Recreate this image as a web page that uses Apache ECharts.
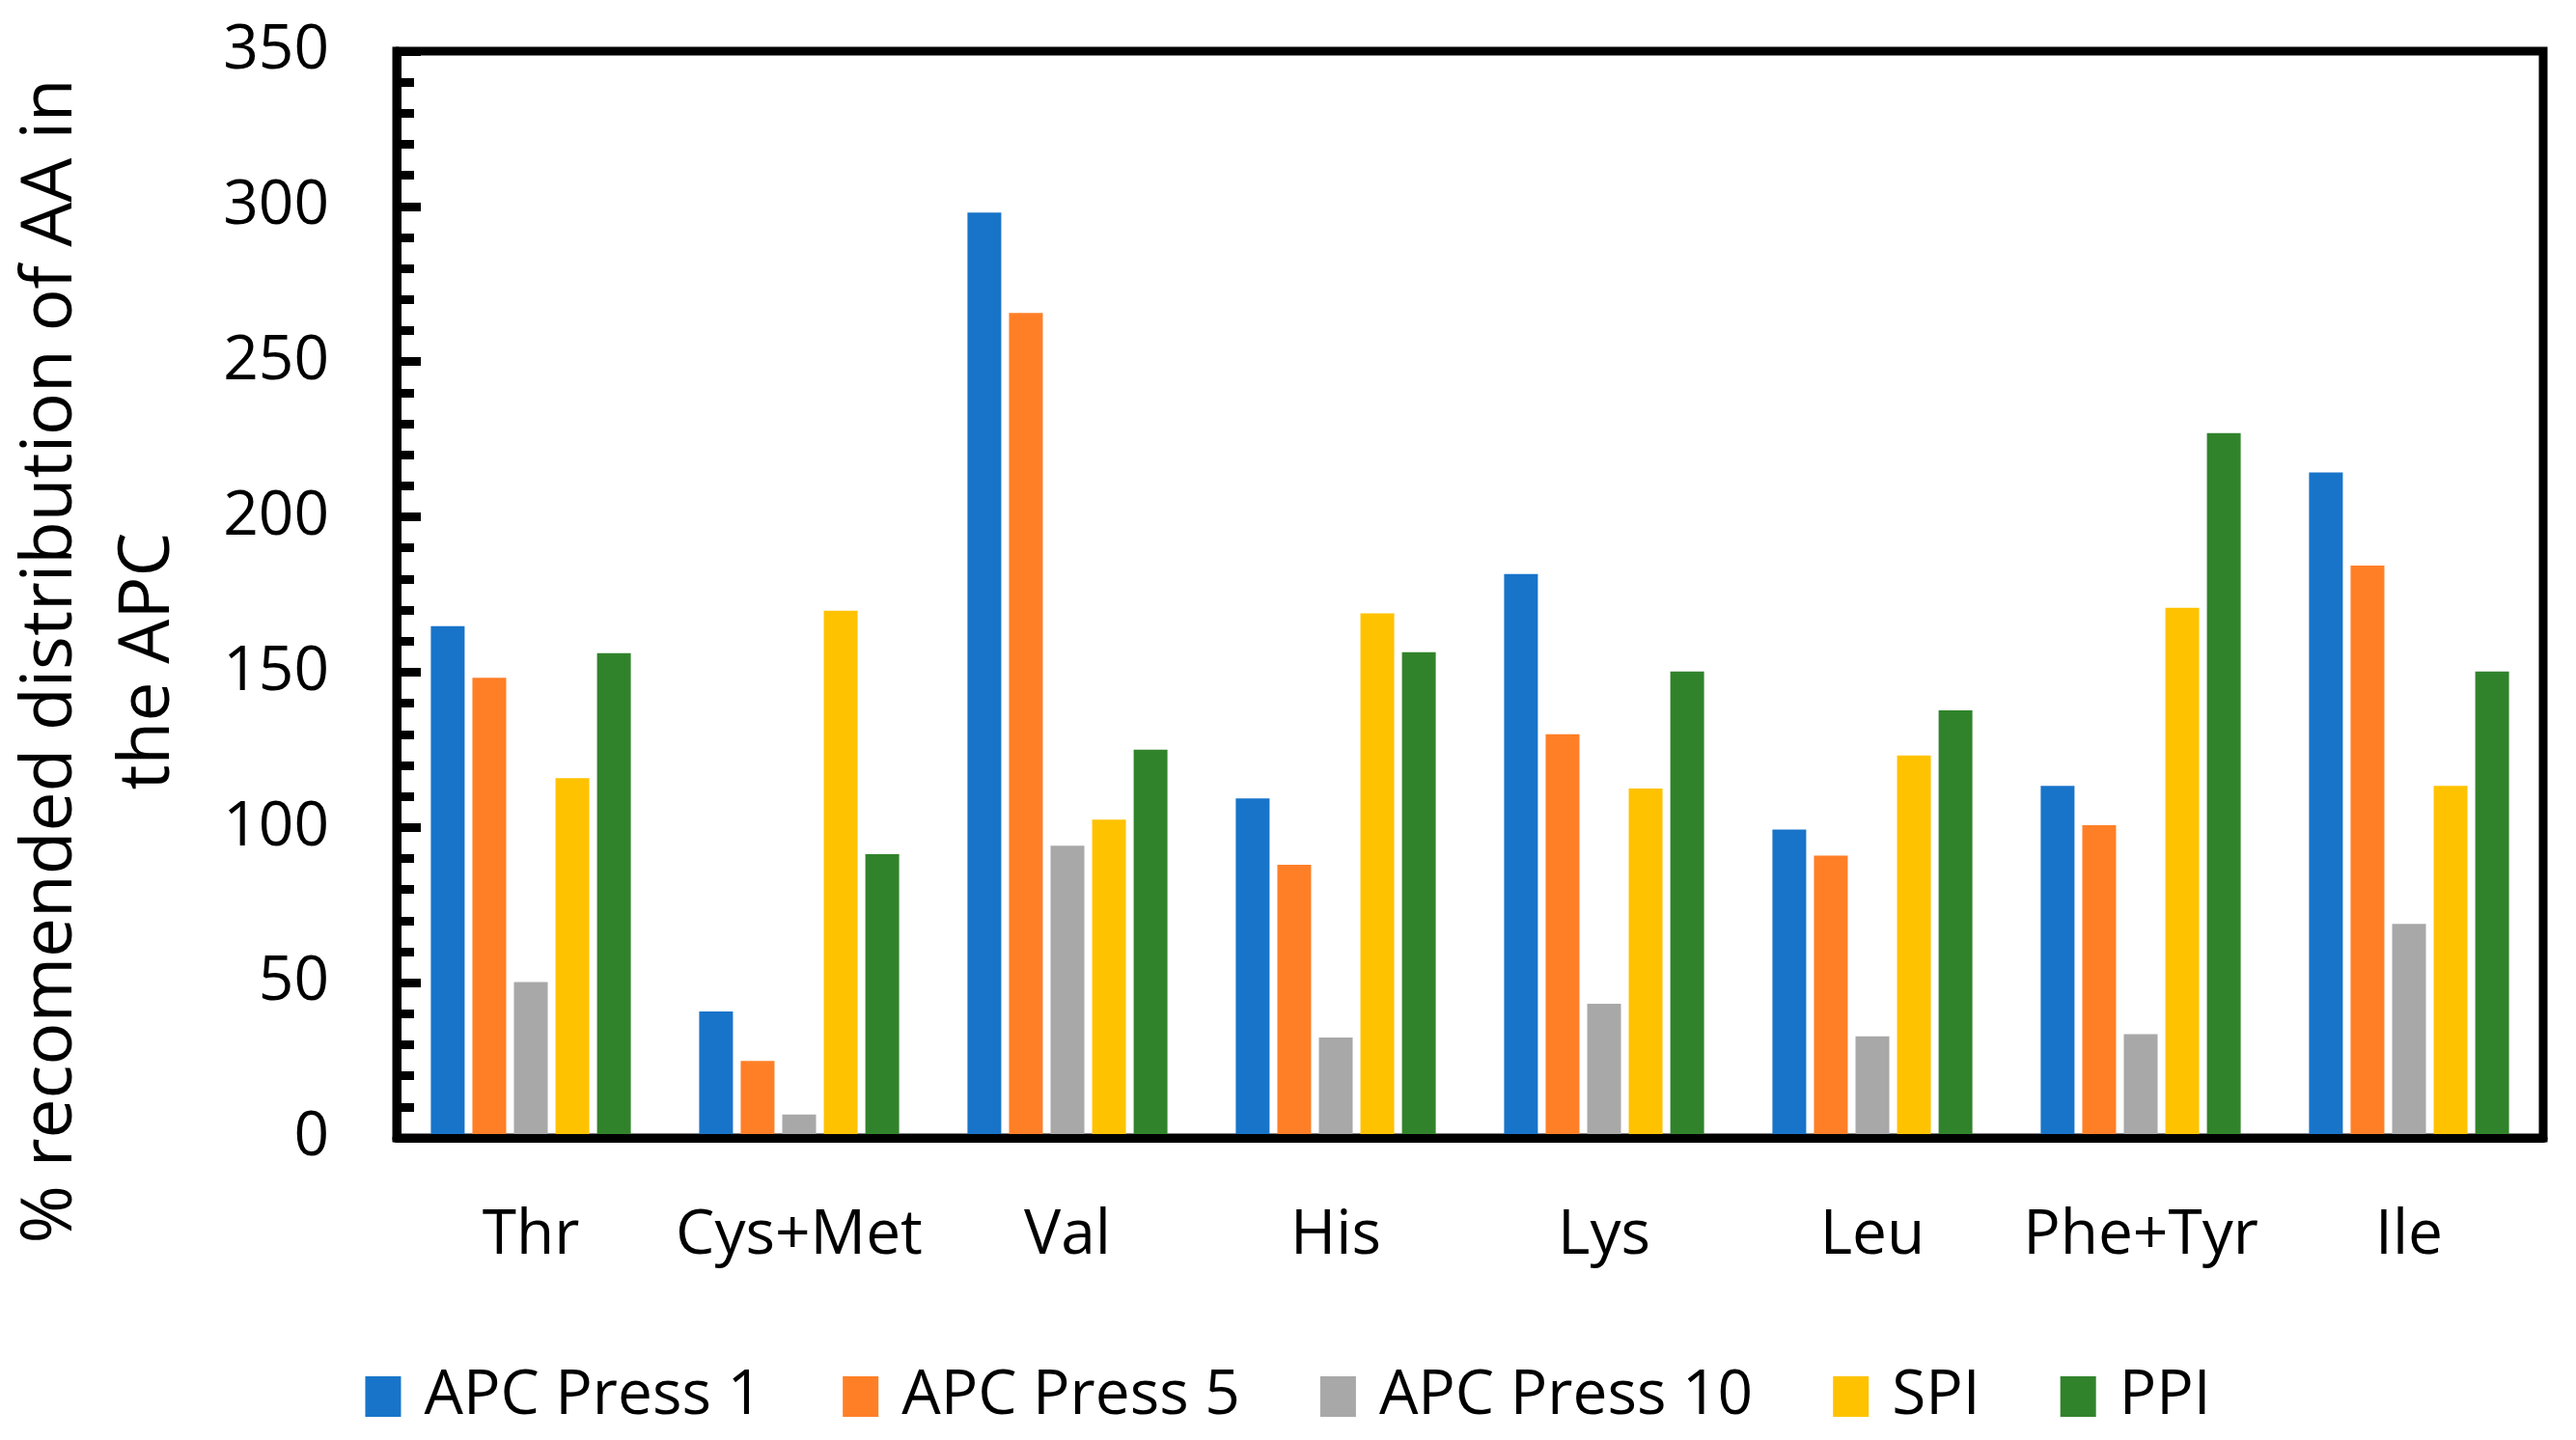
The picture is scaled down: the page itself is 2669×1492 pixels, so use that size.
<!DOCTYPE html>
<html>
<head>
<meta charset="utf-8">
<script src="https://cdn.jsdelivr.net/npm/echarts@6/dist/echarts.min.js"></script>
<style>
html,body{margin:0;padding:0;background:#fff;}
#chart{width:2669px;height:1492px;}
</style>
</head>
<body>
<div id="chart"></div>
<script>
const categories = ['Thr', 'Cys+Met', 'Val', 'His', 'Lys', 'Leu', 'Phe+Tyr', 'Ile'];
const seriesNames = ['APC Press 1', 'APC Press 5', 'APC Press 10', 'SPI', 'PPI'];
const apcPress1 = [164.8, 40.7, 298.0, 109.3, 181.6, 99.3, 113.4, 214.3];
const apcPress5 = [148.2, 24.8, 265.7, 88.0, 130.0, 90.9, 100.7, 184.3];
const apcPress10 = [50.2, 7.5, 94.1, 32.3, 43.2, 32.7, 33.4, 68.9];
const spi = [115.9, 169.8, 102.5, 168.9, 112.5, 123.2, 170.7, 113.4];
const ppi = [156.1, 91.4, 125.0, 156.4, 150.2, 137.7, 227.0, 150.2];
const colors = ['#1874C9', '#FF7F27', '#A8A8A8', '#FFC200', '#31832B'];
const yTitle = '% recomended distribution of AA in\nthe APC';

const FONT = 'Open Sans';
const allData = [apcPress1, apcPress5, apcPress10, spi, ppi];

const chart = echarts.init(document.getElementById('chart'), null, {renderer: 'canvas'});
chart.setOption({
  animation: false,
  backgroundColor: '#ffffff',
  color: colors,
  grid: {
    left: 411, right: 34, top: 53, bottom: 313,
    show: true, borderColor: '#000', borderWidth: 9, backgroundColor: 'transparent'
  },
  legend: {
    data: seriesNames,
    left: 'center',
    top: 1410,
    icon: 'rect',
    itemWidth: 37,
    itemHeight: 42,
    itemGap: 83,
    textStyle: {fontFamily: FONT, fontSize: 64, color: '#000', padding: [0, 0, 0, 19]}
  },
  xAxis: {
    type: 'category',
    data: categories,
    z: 10,
    axisLine: {show: true, lineStyle: {color: '#000', width: 9}},
    axisTick: {show: false},
    axisLabel: {fontFamily: FONT, fontSize: 64, color: '#000', margin: 70, interval: 0},
    splitLine: {show: false}
  },
  yAxis: {
    type: 'value',
    min: 0, max: 350, interval: 50,
    z: 10,
    axisLine: {show: true, lineStyle: {color: '#000', width: 9}},
    axisTick: {show: true, inside: true, length: 25, lineStyle: {color: '#000', width: 9}},
    minorTick: {show: true, splitNumber: 5, length: 18, lineStyle: {color: '#000', width: 9}},
    axisLabel: {fontFamily: FONT, fontSize: 64, color: '#000', margin: 70},
    splitLine: {show: false}
  },
  graphic: [{
    type: 'text',
    x: 104, y: 685,
    rotation: Math.PI / 2,
    style: {
      text: yTitle,
      fontFamily: FONT,
      fontSize: 73,
      fill: '#000',
      textAlign: 'center',
      textVerticalAlign: 'middle',
      align: 'center',
      verticalAlign: 'middle',
      lineHeight: 101
    }
  }],
  series: seriesNames.map((name, i) => ({
    name: name,
    type: 'bar',
    data: allData[i],
    barWidth: 35,
    barGap: '23%',
    itemStyle: {color: colors[i]}
  }))
});
</script>
</body>
</html>
